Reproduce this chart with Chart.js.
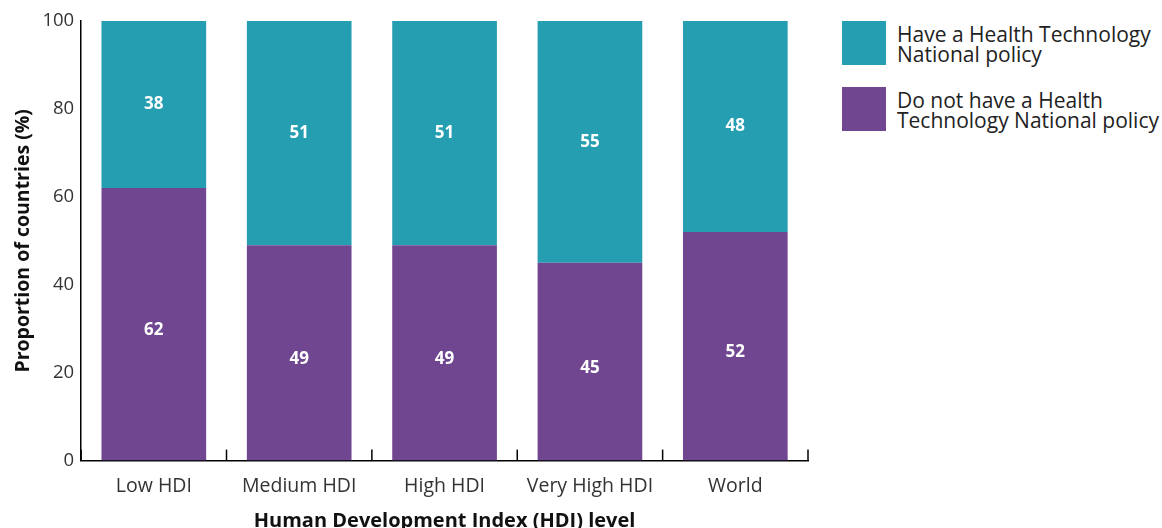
<!DOCTYPE html>
<html>
<head>
<meta charset="utf-8">
<script src="https://cdn.jsdelivr.net/npm/chart.js@4/dist/chart.umd.min.js"></script>
<style>
  html, body { margin: 0; padding: 0; background: #fff; }
  #wrap { position: relative; width: 1162px; height: 528px; }
  #box { position: absolute; left: 0; top: 0; width: 832px; height: 528px; }
  .leg { position: absolute; left: 842px; font-family: "Open Sans", sans-serif; font-size: 21px; line-height: 20px; color: #222; }
  .sw { position: absolute; left: 0; top: 0; width: 44px; height: 44px; }
  .lt { position: absolute; left: 55px; top: 3px; white-space: nowrap; }
</style>
</head>
<body>
<div id="wrap">
  <div id="box"><canvas id="c"></canvas></div>
  <div class="leg" style="top:21px"><div class="sw" style="background:#249EB0"></div><div class="lt">Have a Health Technology<br>National policy</div></div>
  <div class="leg" style="top:87px"><div class="sw" style="background:#704691"></div><div class="lt">Do not have a Health<br>Technology National policy</div></div>
</div>
<script>
const categories = ["Low HDI", "Medium HDI", "High HDI", "Very High HDI", "World"];
const doNotHave = [62, 49, 49, 45, 52];
const have = [38, 51, 51, 55, 48];
const yTicks = [0, 20, 40, 60, 80, 100];

const FONT = '"Open Sans", sans-serif';

const labelPlugin = {
  id: 'segLabels',
  afterDatasetsDraw(chart) {
    const ctx = chart.ctx;
    ctx.save();
    ctx.fillStyle = '#fff';
    ctx.font = 'bold 17px ' + FONT;
    ctx.textAlign = 'center';
    ctx.textBaseline = 'middle';
    chart.data.datasets.forEach((ds, di) => {
      const meta = chart.getDatasetMeta(di);
      const shift = di === 0 ? 6 : 0;
      meta.data.forEach((el, i) => {
        const cy = (el.y + el.base) / 2 + shift;
        ctx.fillText(String(ds.data[i]), el.x, cy);
      });
    });
    ctx.restore();
  }
};

const tickPlugin = {
  id: 'innerTicks',
  afterDraw(chart) {
    const xs = chart.scales.x;
    const ctx = chart.ctx;
    ctx.save();
    ctx.strokeStyle = '#000';
    ctx.lineWidth = 1.5;
    for (let i = 0; i <= categories.length; i++) {
      const x = xs.getPixelForValue(i - 0.5);
      ctx.beginPath();
      ctx.moveTo(x, xs.top);
      ctx.lineTo(x, xs.top - 11);
      ctx.stroke();
    }
    ctx.restore();
  }
};

new Chart(document.getElementById('c'), {
  type: 'bar',
  data: {
    labels: categories,
    datasets: [
      { label: 'Do not have a Health Technology National policy', data: doNotHave, backgroundColor: '#704691', borderWidth: 0 },
      { label: 'Have a Health Technology National policy', data: have, backgroundColor: '#249EB0', borderWidth: 0 }
    ]
  },
  options: {
    responsive: true,
    maintainAspectRatio: false,
    animation: false,
    layout: { padding: { top: 21, right: 24, bottom: 0, left: 6 } },
    plugins: { legend: { display: false }, tooltip: { enabled: false } },
    datasets: { bar: { categoryPercentage: 1, barPercentage: 0.72 } },
    scales: {
      x: {
        stacked: true,
        grid: { display: false, drawTicks: false },
        border: { display: true, color: '#000', width: 1.5 },
        ticks: { color: '#333', font: { family: FONT, size: 19.5 }, padding: 14, maxRotation: 0 },
        title: { display: true, text: 'Human Development Index (HDI) level', color: '#111', font: { family: FONT, size: 20, weight: 'bold' }, padding: { top: -3, bottom: -5 } }
      },
      y: {
        stacked: true,
        min: 0, max: 100,
        afterBuildTicks(scale) { scale.ticks = yTicks.map(v => ({ value: v })); },
        grid: { display: false, drawTicks: false },
        border: { display: true, color: '#000', width: 1.5 },
        ticks: { color: '#333', font: { family: FONT, size: 18.5 }, padding: 7 },
        title: { display: true, text: 'Proportion of countries (%)', color: '#111', font: { family: FONT, size: 19.5, weight: 'bold' }, padding: { top: 6, bottom: 0 } }
      }
    }
  },
  plugins: [labelPlugin, tickPlugin]
});
</script>
</body>
</html>
